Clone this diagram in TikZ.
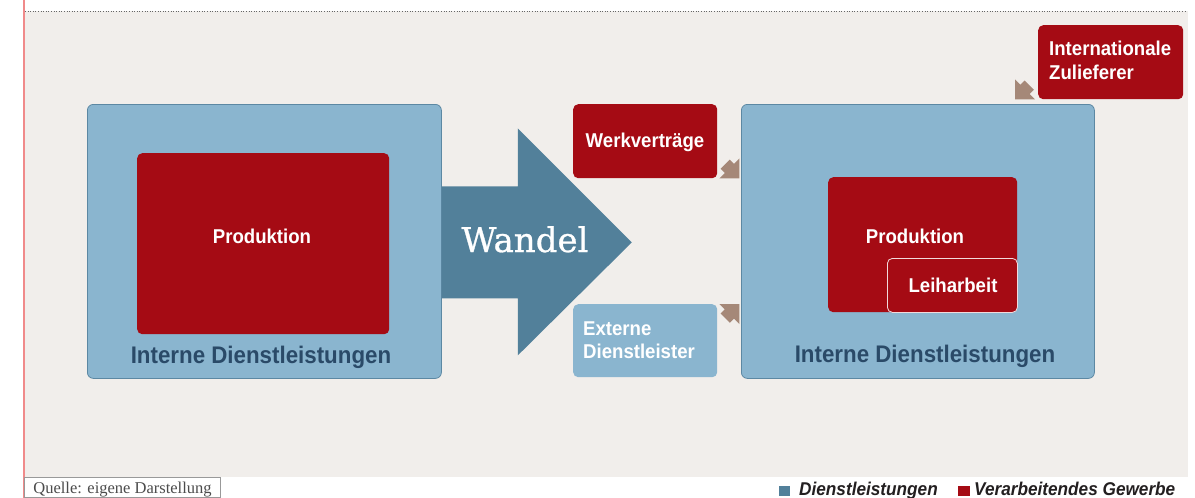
\documentclass[tikz,border=0pt]{standalone}
\usepackage{fontspec}
\setmainfont{Liberation Sans}
\newfontfamily\condsans[FakeStretch=0.93]{Liberation Sans}
\newfontfamily\wandelfont[FakeBold=0.8]{DejaVu Serif}
\newfontfamily\quellefont{Liberation Serif}
\usetikzlibrary{calc}

\definecolor{paper}{HTML}{F1EEEB}
\definecolor{lightblue}{HTML}{8AB5CF}
\definecolor{boxedge}{HTML}{5C88A3}
\definecolor{arrowblue}{HTML}{52809A}
\definecolor{darkred}{HTML}{A50B14}
\definecolor{tan}{HTML}{A58878}
\definecolor{labelblue}{HTML}{2A4A68}
\definecolor{marginred}{HTML}{F08A8A}
\definecolor{legendtext}{HTML}{231F20}

\tikzset{
  bigbox/.style={draw=boxedge, fill=lightblue, line width=0.8pt, rounded corners=6pt,
    anchor=north west, inner sep=0pt, minimum width=354pt, minimum height=274pt},
  redbox/.style={fill=darkred, rounded corners=5pt, anchor=north west, inner sep=0pt},
  sidebox/.style={rounded corners=5pt, anchor=north west, inner sep=0pt,
    minimum width=144pt, minimum height=74pt},
  boxtext/.style={text=white, inner sep=0pt, font=\condsans\bfseries\fontsize{20}{23}\selectfont},
  biglabel/.style={text=labelblue, inner sep=0pt, anchor=base, font=\condsans\bfseries\fontsize{24}{28}\selectfont},
  legendsq/.style={inner sep=0pt, minimum width=11pt, minimum height=10pt},
  legendlabel/.style={text=legendtext, inner sep=0pt, anchor=base west,
    font=\condsans\bfseries\itshape\fontsize{18.5}{22}\selectfont},
  cornerarrow/.pic={
    \fill[tan] (0,0) -- (0,-20) -- (-5.4,-14.6) -- (-9.6,-18.8) -- (-18.8,-9.6)
      -- (-14.6,-5.4) -- (-20,0) -- cycle;
  }
}

\begin{document}
\begin{tikzpicture}[x=1pt, y=-1pt]
  \useasboundingbox (0,0) rectangle (1195,498);
  \fill[white] (0,0) rectangle (1195,498);

  % panel background, top rule and margin line
  \fill[paper] (25,11) rectangle (1188,477);
  \draw[black!60, dotted, line width=0.6pt] (25,11) -- (1186,11);
  \draw[marginred, line width=1.5pt] (24,0) -- (24,498);

  % before: internal services around production
  \node[bigbox] (lbox) at (87,104) {};
  \node[redbox, minimum width=252pt, minimum height=181pt] (lred) at (137,153) {};
  \node[boxtext, anchor=base] (lprod) at (262,243) {Produktion};
  \node[biglabel] (llabel) at (261,363) {Interne Dienstleistungen};

  % the change arrow
  \fill[arrowblue, shift={(lbox.east)}]
    (0,-55) -- (76,-55) -- (76,-113) -- (190,1) -- (76,114) -- (76,57) -- (0,57) -- cycle;
  \node[text=white, inner sep=0pt, anchor=base, font=\wandelfont\fontsize{34}{40}\selectfont]
    (wandel) at (525,252) {Wandel};

  % after: production with outside parts
  \node[bigbox, minimum width=353pt] (rbox) at (741,104) {};
  \node[redbox, minimum width=189pt, minimum height=135pt] (rred) at (828,177) {};
  \node[boxtext, anchor=base] (rprod) at (915,243) {Produktion};
  \node[redbox, draw=white!85!darkred, line width=0.8pt, minimum width=130pt, minimum height=54pt]
    (leihbox) at (887,258) {};
  \node[boxtext, anchor=base] (leih) at (953,292) {Leiharbeit};
  \node[biglabel] (rlabel) at (925,362) {Interne Dienstleistungen};

  % outside suppliers of work
  \node[sidebox, fill=darkred] (werk) at (573,104) {};
  \node[boxtext, anchor=base] (werktext) at (645,147) {Werkverträge};

  \node[sidebox, fill=lightblue, minimum height=73pt] (ext) at (573,304) {};
  \node[boxtext, anchor=base west] (ext1) at (583,335) {Externe};
  \node[boxtext, anchor=base west] (ext2) at (583,358) {Dienstleister};

  \node[sidebox, fill=darkred, minimum width=145pt] (intl) at (1038,25) {};
  \node[boxtext, anchor=base west] (intl1) at (1049,55) {Internationale};
  \node[boxtext, anchor=base west] (intl2) at (1049,79) {Zulieferer};

  % small arrows into the right box
  \pic (arrwerk) at ($(werk.south east)+(22,0)$) {cornerarrow};
  \pic[yscale=-1] (arrext) at ($(ext.north east)+(22,0)$) {cornerarrow};
  \pic[xscale=-1] (arrintl) at ($(intl.south west)+(-23,0)$) {cornerarrow};

  % source note
  \node[draw=black!40, fill=white, line width=0.8pt, anchor=base west, inner xsep=9pt, inner ysep=0pt,
    text height=16pt, text depth=4pt, text=black!70,
    font=\quellefont\fontsize{16.5}{20}\selectfont] (quelle) at (24,493) {Quelle: eigene Darstellung};

  % legend
  \node[legendsq, fill=arrowblue] (sqdl) at (784,491) {};
  \node[legendlabel] (legdl) at (799,495) {Dienstleistungen};
  \node[legendsq, fill=darkred, minimum width=12pt] (sqvg) at (964,491) {};
  \node[legendlabel] (legvg) at (974,495) {Verarbeitendes Gewerbe};
\end{tikzpicture}
\end{document}
